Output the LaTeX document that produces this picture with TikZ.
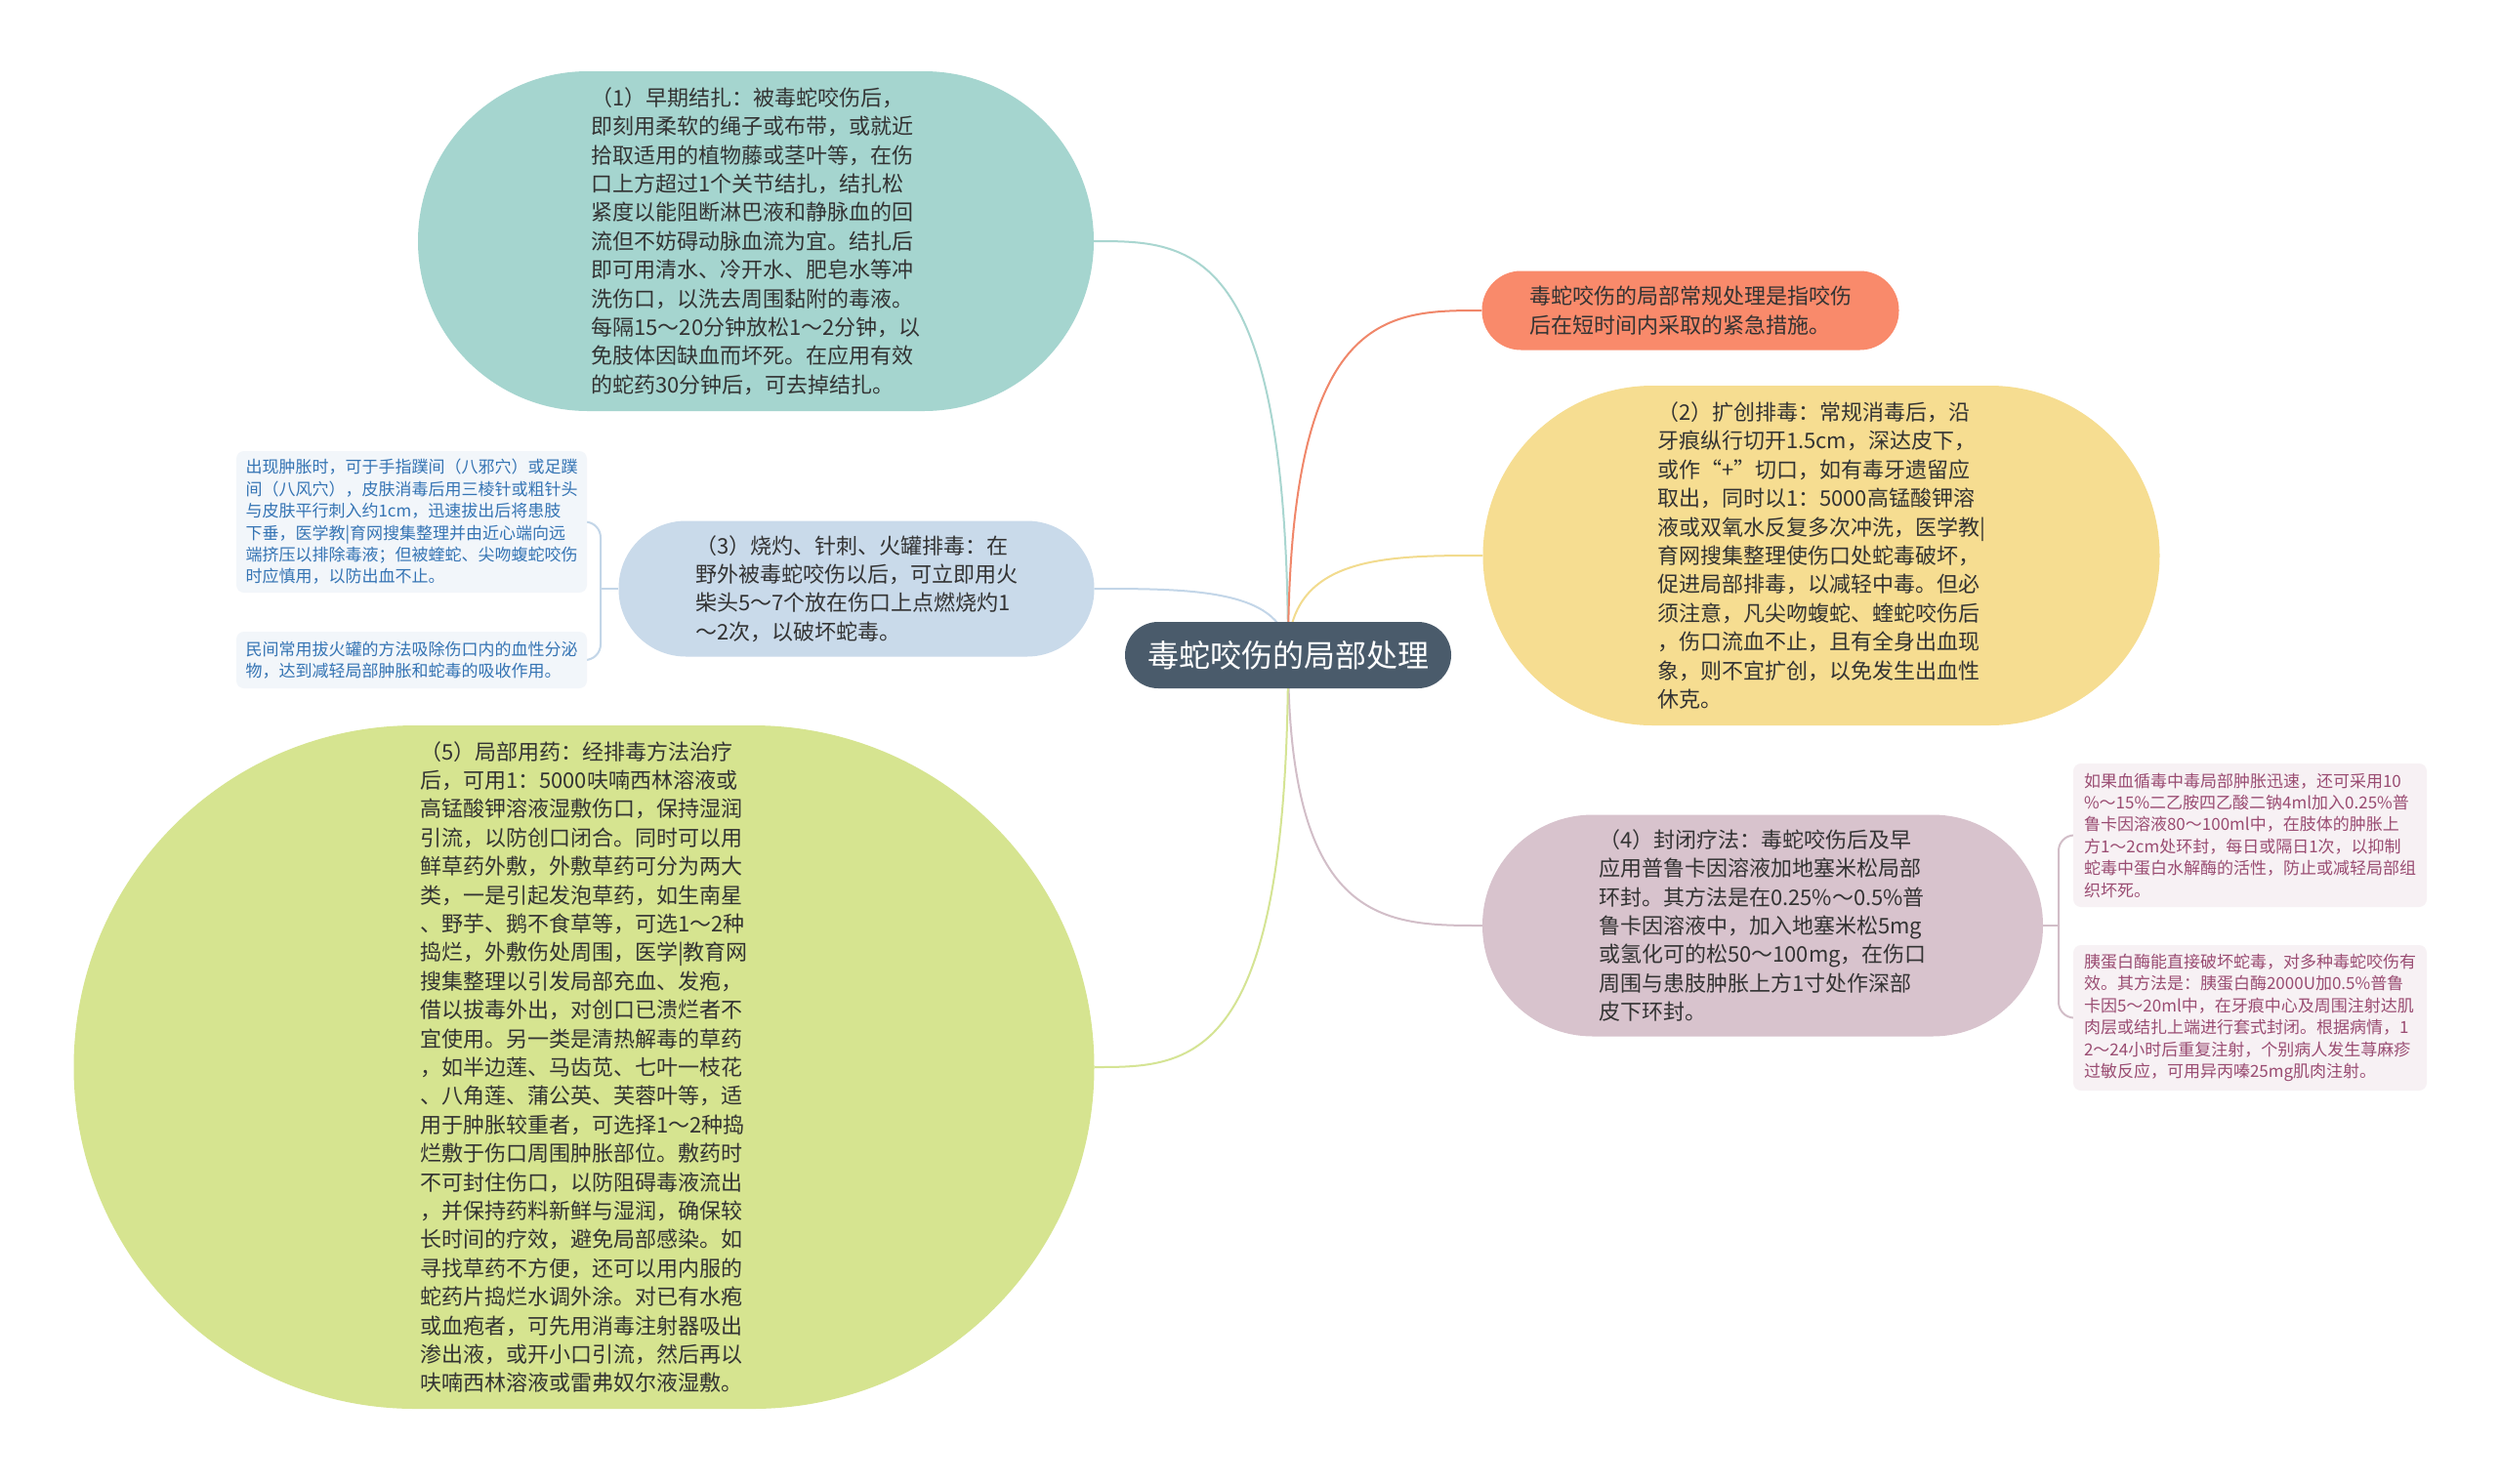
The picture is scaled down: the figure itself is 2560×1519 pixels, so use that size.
\documentclass[tikz,border=0pt]{standalone}
\usepackage{fontspec}
\usetikzlibrary{calc}
\newfontfamily\cjk{Noto Sans CJK SC}
\pgfdeclarelayer{back}
\pgfdeclarelayer{bg}
\pgfsetlayers{back,bg,main}
\definecolor{txt}{HTML}{333333}
\definecolor{cmain}{HTML}{4A5B6B}
\definecolor{cteal}{HTML}{A5D5CF}
\definecolor{corange}{HTML}{F98A6B}
\definecolor{cyellow}{HTML}{F6DD91}
\definecolor{cblue}{HTML}{C9DAEA}
\definecolor{clav}{HTML}{D8C3CD}
\definecolor{cgreen}{HTML}{D6E490}
\definecolor{subblue}{HTML}{F2F6FA}
\definecolor{subpink}{HTML}{F7F1F4}
\definecolor{subbluetxt}{HTML}{3574B4}
\definecolor{subpinktxt}{HTML}{9A4C72}
\definecolor{lteal}{HTML}{A9D6D0}
\definecolor{lorange}{HTML}{F0876A}
\definecolor{lyellow}{HTML}{F2DB8E}
\definecolor{lblue}{HTML}{C3D6E8}
\definecolor{llav}{HTML}{D2BEC8}
\definecolor{lgreen}{HTML}{D5E494}
\begin{document}
\begin{tikzpicture}[x=1pt,y=-1pt,
  big/.style={font={\cjk\fontsize{22}{29.4}\selectfont}, text=txt, align=left, inner sep=0pt},
  subbox/.style={font={\cjk\fontsize{17}{22.4}\selectfont}, align=left, inner sep=0pt, rounded corners=8pt, minimum width=#1},
  link/.style={line width=2pt},
  brk/.style={line width=2pt, rounded corners=16pt}
]
\useasboundingbox (0,0) rectangle (2560,1519);
\begin{pgfonlayer}{back}
\fill[white] (0,0) rectangle (2560,1519);
\end{pgfonlayer}

% center
\node[fill=cmain, rounded corners=34pt, minimum width=334pt, minimum height=68pt, inner sep=0pt,
      text=white, font={\cjk\fontsize{32}{38}\selectfont}] (c) at (1319,671) {毒蛇咬伤的局部处理};

% (1)
\node[big, fill=cteal, rounded corners=174pt, minimum width=692pt, minimum height=348pt] (n1) at (774,247) {%
（1）早期结扎：被毒蛇咬伤后，\\
即刻用柔软的绳子或布带，或就近\\
拾取适用的植物藤或茎叶等，在伤\\
口上方超过1个关节结扎，结扎松\\
紧度以能阻断淋巴液和静脉血的回\\
流但不妨碍动脉血流为宜。结扎后\\
即可用清水、冷开水、肥皂水等冲\\
洗伤口，以洗去周围黏附的毒液。\\
每隔15～20分钟放松1～2分钟，以\\
免肢体因缺血而坏死。在应用有效\\
的蛇药30分钟后，可去掉结扎。};

% orange
\node[big, fill=corange, rounded corners=40pt, minimum width=427pt, minimum height=81pt] (no) at (1731,318) {%
毒蛇咬伤的局部常规处理是指咬伤\\
后在短时间内采取的紧急措施。};

% (2)
\node[big, fill=cyellow, rounded corners=174pt, minimum width=693pt, minimum height=348pt] (n2) at (1865,569) {%
（2）扩创排毒：常规消毒后，沿\\
牙痕纵行切开1.5cm，深达皮下，\\
或作“+”切口，如有毒牙遗留应\\
取出，同时以1：5000高锰酸钾溶\\
液或双氧水反复多次冲洗，医学教|\\
育网搜集整理使伤口处蛇毒破坏，\\
促进局部排毒，以减轻中毒。但必\\
须注意，凡尖吻蝮蛇、蝰蛇咬伤后\\
，伤口流血不止，且有全身出血现\\
象，则不宜扩创，以免发生出血性\\
休克。};

% (3)
\node[big, fill=cblue, rounded corners=69pt, minimum width=487pt, minimum height=139pt] (n3) at (877,603) {%
（3）烧灼、针刺、火罐排毒：在\\
野外被毒蛇咬伤以后，可立即用火\\
柴头5～7个放在伤口上点燃烧灼1\\
～2次，以破坏蛇毒。};

% (4)
\node[big, fill=clav, rounded corners=113pt, minimum width=574pt, minimum height=227pt] (n4) at (1805,948) {%
（4）封闭疗法：毒蛇咬伤后及早\\
应用普鲁卡因溶液加地塞米松局部\\
环封。其方法是在0.25\%～0.5\%普\\
鲁卡因溶液中，加入地塞米松5mg\\
或氢化可的松50～100mg，在伤口\\
周围与患肢肿胀上方1寸处作深部\\
皮下环封。};

% (5)
\node[big, fill=cgreen, rounded corners=350pt, minimum width=1045pt, minimum height=700pt] (n5) at (598,1093) {%
（5）局部用药：经排毒方法治疗\\
后，可用1：5000呋喃西林溶液或\\
高锰酸钾溶液湿敷伤口，保持湿润\\
引流，以防创口闭合。同时可以用\\
鲜草药外敷，外敷草药可分为两大\\
类，一是引起发泡草药，如生南星\\
、野芋、鹅不食草等，可选1～2种\\
捣烂，外敷伤处周围，医学|教育网\\
搜集整理以引发局部充血、发疱，\\
借以拔毒外出，对创口已溃烂者不\\
宜使用。另一类是清热解毒的草药\\
，如半边莲、马齿苋、七叶一枝花\\
、八角莲、蒲公英、芙蓉叶等，适\\
用于肿胀较重者，可选择1～2种捣\\
烂敷于伤口周围肿胀部位。敷药时\\
不可封住伤口，以防阻碍毒液流出\\
，并保持药料新鲜与湿润，确保较\\
长时间的疗效，避免局部感染。如\\
寻找草药不方便，还可以用内服的\\
蛇药片捣烂水调外涂。对已有水疱\\
或血疱者，可先用消毒注射器吸出\\
渗出液，或开小口引流，然后再以\\
呋喃西林溶液或雷弗奴尔液湿敷。};

% sub nodes of (3)
\node[subbox=359pt, fill=subblue, text=subbluetxt, minimum height=145pt] (sa) at (421.5,534.5) {%
出现肿胀时，可于手指蹼间（八邪穴）或足蹼\\
间（八风穴），皮肤消毒后用三棱针或粗针头\\
与皮肤平行刺入约1cm，迅速拔出后将患肢\\
下垂，医学教|育网搜集整理并由近心端向远\\
端挤压以排除毒液；但被蝰蛇、尖吻蝮蛇咬伤\\
时应慎用，以防出血不止。};
\node[subbox=359pt, fill=subblue, text=subbluetxt, minimum height=58pt] (sb) at (421.5,676) {%
民间常用拔火罐的方法吸除伤口内的血性分泌\\
物，达到减轻局部肿胀和蛇毒的吸收作用。};

% sub nodes of (4)
\node[subbox=362pt, fill=subpink, text=subpinktxt, minimum height=147pt] (sc) at (2304,855.5) {%
如果血循毒中毒局部肿胀迅速，还可采用10\\
\%～15\%二乙胺四乙酸二钠4ml加入0.25\%普\\
鲁卡因溶液80～100ml中，在肢体的肿胀上\\
方1～2cm处环封，每日或隔日1次，以抑制\\
蛇毒中蛋白水解酶的活性，防止或减轻局部组\\
织坏死。};
\node[subbox=362pt, fill=subpink, text=subpinktxt, minimum height=149pt] (sd) at (2304,1042.5) {%
胰蛋白酶能直接破坏蛇毒，对多种毒蛇咬伤有\\
效。其方法是：胰蛋白酶2000U加0.5\%普鲁\\
卡因5～20ml中，在牙痕中心及周围注射达肌\\
肉层或结扎上端进行套式封闭。根据病情，1\\
2～24小时后重复注射，个别病人发生荨麻疹\\
过敏反应，可用异丙嗪25mg肌肉注射。};

\begin{pgfonlayer}{bg}
\draw[link, lteal]   (c.center) .. controls (c.center |- n1.east) and ($(c.center |- n1.east)!0.5!(n1.east)$) .. (n1.east);
\draw[link, lorange] (c.center) .. controls (c.center |- no.west) and ($(c.center |- no.west)!0.5!(no.west)$) .. (no.west);
\draw[link, lyellow] (c.center) .. controls (c.center |- n2.west) and ($(c.center |- n2.west)!0.5!(n2.west)$) .. (n2.west);
\draw[link, lblue]   (c.center) .. controls (c.center |- n3.east) and ($(c.center |- n3.east)!0.5!(n3.east)$) .. (n3.east);
\draw[link, llav]    (c.center) .. controls (c.center |- n4.west) and ($(c.center |- n4.west)!0.5!(n4.west)$) .. (n4.west);
\draw[link, lgreen]  (c.center) .. controls (c.center |- n5.east) and ($(c.center |- n5.east)!0.5!(n5.east)$) .. (n5.east);

\coordinate (fl) at (615,603);
\draw[link, lblue] (n3.west) -- (fl);
\draw[brk, lblue] (fl) |- (sa.east);
\draw[brk, lblue] (fl) |- (sb.east);

\coordinate (fr) at (2108,948);
\draw[link, llav] (n4.east) -- (fr);
\draw[brk, llav] (fr) |- (sc.west);
\draw[brk, llav] (fr) |- (sd.west);
\end{pgfonlayer}
\end{tikzpicture}
\end{document}
